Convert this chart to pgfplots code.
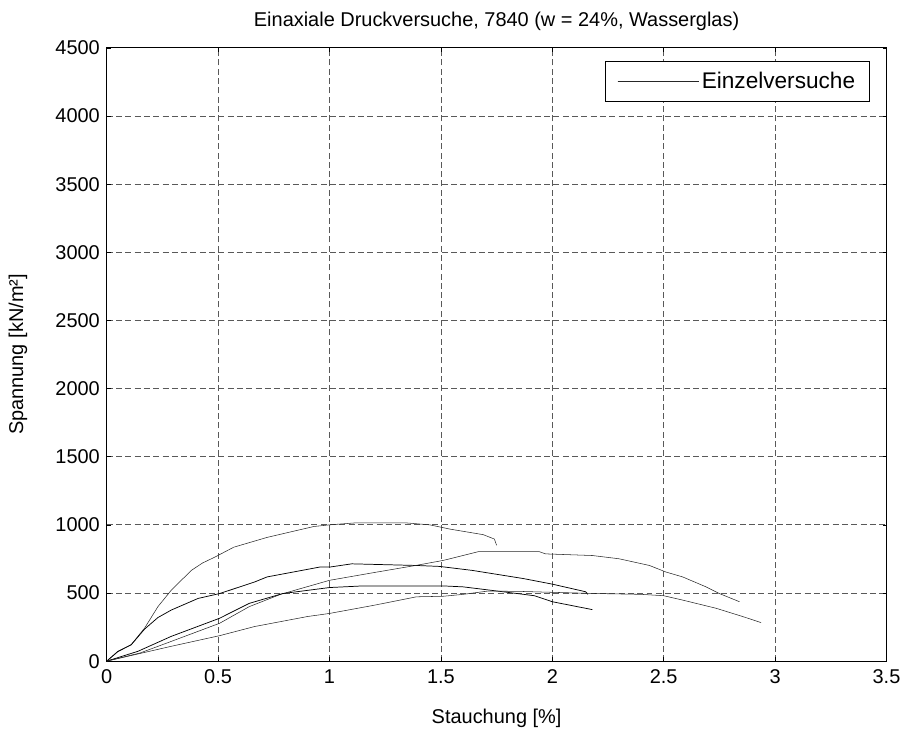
\documentclass[border=0pt]{standalone}
\usepackage{fontspec}
\setmainfont{Liberation Sans}
\usepackage{pgfplots}
\pgfplotsset{compat=1.18}
\begin{document}
\fontsize{15}{18}\selectfont
\begin{tikzpicture}[x=0.75pt,y=0.75pt]
\begin{axis}[
  scale only axis,
  width=586.5pt, height=461.25pt,
  xmin=0, xmax=3.5, ymin=0, ymax=4500,
  xtick={0,0.5,...,3.5},
  ytick={0,500,...,4500},
  xticklabels={0,0.5,1,1.5,2,2.5,3,3.5},
  scaled y ticks=false,
  /pgf/number format/1000 sep={},
  /pgf/number format/assume math mode=true,
  tick align=inside,
  tick pos=both,
  major tick length=3pt,
  grid=major,
  major grid style={black!65, line width=0.6pt, dash pattern=on 4.5pt off 2.5pt},
  axis line style={black, line width=0.75pt},
  tick style={black, line width=0.5pt},
  cycle list={{black!85, line width=0.55pt}},
  title={Einaxiale Druckversuche, 7840 (w = 24\%, Wasserglas)},
  title style={yshift=2pt},
  xlabel={Stauchung [\%]},
  ylabel={Spannung [kN/m²]},
  xlabel style={yshift=-9pt},
  ylabel style={yshift=11pt},
  xticklabel style={yshift=-1pt},
  legend style={at={(0.979,0.979)}, anchor=north east, draw=black, line width=0.6pt, font=\fontsize{17}{20}\selectfont, inner xsep=9pt, inner ysep=6pt},
  legend cell align=left,
  legend image code/.code={\draw[black!85, line width=0.55pt] (0pt,0pt) -- (51pt,0pt); \path (0pt,0pt) -- (61pt,0pt);},
]
% A (peak ~1010)
\addplot coordinates {
(0,0) (0.05,72) (0.11,121) (0.17,242) (0.23,400) (0.29,521) (0.38,666) (0.43,720) (0.485,763) (0.57,836) (0.72,908) (0.83,950) (0.93,988) (1.0,1000) (1.12,1015) (1.34,1015) (1.45,1000) (1.54,969) (1.69,928) (1.74,896) (1.75,850)};
\addlegendentry{Einzelversuche}
% B (peak ~710)
\addplot coordinates {
(0,0) (0.05,70) (0.11,120) (0.17,235) (0.23,320) (0.29,375) (0.41,460) (0.507,496) (0.664,581) (0.72,618) (0.955,690) (1.0,690) (1.10,714) (1.39,702) (1.494,695) (1.64,666) (1.87,606) (2.0,565) (2.15,509) (2.16,490)};
% C (peak ~805)
\addplot coordinates {
(0,0) (0.15,60) (0.29,145) (0.507,278) (0.64,400) (0.78,490) (1.0,593) (1.2,650) (1.39,703) (1.51,739) (1.54,751) (1.67,804) (1.94,804) (1.97,787) (2.18,775) (2.30,751) (2.436,702) (2.51,654) (2.585,618) (2.69,545) (2.75,496) (2.84,436)};
% D (peak ~552)
\addplot coordinates {
(0,0) (0.14,72) (0.29,182) (0.507,315) (0.64,424) (0.79,496) (1.0,540) (1.15,552) (1.51,552) (1.6,545) (1.71,523) (1.92,480) (2.0,436) (2.18,378)};
% E (peak ~510)
\addplot coordinates {
(0,0) (0.29,109) (0.507,187) (0.664,254) (0.9,327) (1.0,350) (1.2,410) (1.39,472) (1.51,476) (1.6,490) (1.71,514) (1.85,512) (2.0,505) (2.2,496) (2.4,490) (2.5,480) (2.585,448) (2.735,388) (2.855,327) (2.937,283)};
\end{axis}
\useasboundingbox (current axis.south west) ++(-107,-65) rectangle ++(907,728);
\end{tikzpicture}
\end{document}
